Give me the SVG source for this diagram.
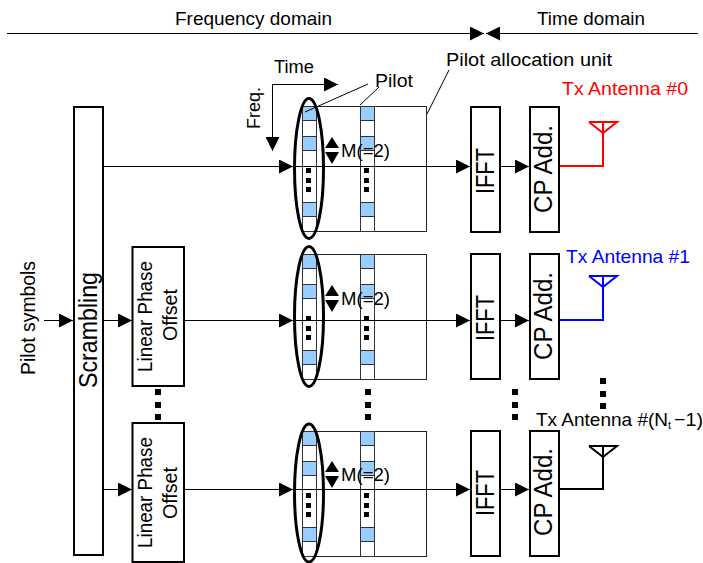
<svg xmlns="http://www.w3.org/2000/svg" xmlns:xlink="http://www.w3.org/1999/xlink" width="703" height="563" viewBox="0 0 703 563">
<style>
text{font-family:"Liberation Sans",Arial,sans-serif;fill:#000;font-size:18.500px}
.box{fill:#fff;stroke:#000;stroke-width:2}
.ln{fill:none;stroke:#000;stroke-width:1}
.thin{fill:none;stroke:#222;stroke-width:1}
.cell{fill:#fff;stroke:#333;stroke-width:1}
.blue{fill:#99ccff;stroke:#333;stroke-width:1}
.ell{fill:none;stroke:#000;stroke-width:3}
.d{fill:#000}
.b{font-size:26px}
.m{font-size:20px}
</style>
<defs>
<marker id="a" markerUnits="userSpaceOnUse" markerWidth="14" markerHeight="14" refX="14" refY="7" orient="auto"><path d="M0 0L14 7L0 14Z" fill="#000"/></marker>
<g id="col">
<rect class="cell" x="302.500" y="0.500" width="14" height="125"/>
<rect class="blue" x="302.500" y="0.500" width="14" height="14"/>
<rect class="blue" x="302.500" y="30.500" width="14" height="14"/>
<rect class="blue" x="302.500" y="96.500" width="14" height="14"/>
<rect class="d" x="306" y="62" width="5" height="5"/><rect class="d" x="306" y="72" width="5" height="5"/><rect class="d" x="306" y="81" width="5" height="5"/>
</g>
<g id="unit">
<rect class="thin" x="302.500" y="0.500" width="124" height="125"/>
<use xlink:href="#col"/>
<use xlink:href="#col" x="58"/>
</g>
<g id="mm">
<path class="d" d="M332 0L339 11L325 11Z"/>
<path class="d" d="M325 15L339 15L332 27Z"/>
<text x="341" y="20" textLength="49" lengthAdjust="spacingAndGlyphs">M(=2)</text>
</g>
</defs>

<g id="unit-0"><use xlink:href="#unit" y="106"/></g>
<g id="unit-1"><use xlink:href="#unit" y="254"/></g>
<g id="unit-2"><use xlink:href="#unit" y="431"/></g>

<g id="connectors">
<path class="ln" d="M7 33.500H484" marker-end="url(#a)"/>
<path class="ln" d="M698 33.500H486" marker-end="url(#a)"/>
<path class="ln" d="M104 166.500H293" marker-end="url(#a)"/>
<path class="ln" d="M293 166.500H470" marker-end="url(#a)"/>
<path class="ln" d="M500 166.500H529" marker-end="url(#a)"/>
<path class="ln" d="M44 320.500H73" marker-end="url(#a)"/>
<path class="ln" d="M104 320.500H132" marker-end="url(#a)"/>
<path class="ln" d="M184 320.500H293" marker-end="url(#a)"/>
<path class="ln" d="M293 320.500H470" marker-end="url(#a)"/>
<path class="ln" d="M500 320.500H529" marker-end="url(#a)"/>
<path class="ln" d="M104 489.500H132" marker-end="url(#a)"/>
<path class="ln" d="M184 489.500H293" marker-end="url(#a)"/>
<path class="ln" d="M293 489.500H470" marker-end="url(#a)"/>
<path class="ln" d="M500 489.500H529" marker-end="url(#a)"/>
<path class="ln" d="M272.500 84.500H338" marker-end="url(#a)"/>
<path class="ln" d="M272.500 84.500V151" marker-end="url(#a)"/>
<path class="ln" d="M305 112L368 84"/>
<path class="ln" d="M360 105L379 87"/>
<path class="ln" d="M427 114L449 70"/>
</g>

<g id="ellipses">
<ellipse class="ell" cx="309" cy="168.500" rx="14.500" ry="70"/>
<ellipse class="ell" cx="309" cy="316.500" rx="14.500" ry="70"/>
<ellipse class="ell" cx="309" cy="493" rx="14.500" ry="69"/>
</g>

<g id="spacing-0"><use xlink:href="#mm" y="137"/></g>
<g id="spacing-1"><use xlink:href="#mm" y="285"/></g>
<g id="spacing-2"><use xlink:href="#mm" y="461"/></g>

<g id="scrambling"><rect class="box" x="74" y="107" width="29" height="448"/><text class="b" transform="translate(97 388) rotate(-90)" textLength="116" lengthAdjust="spacingAndGlyphs">Scrambling</text></g>
<g id="lpo-0"><rect class="box" x="132.500" y="247" width="51.500" height="139"/><text class="m" transform="translate(152 372) rotate(-90)" textLength="111" lengthAdjust="spacingAndGlyphs">Linear Phase</text><text class="m" transform="translate(177 341) rotate(-90)" textLength="52" lengthAdjust="spacingAndGlyphs">Offset</text></g>
<g id="lpo-1"><rect class="box" x="132.500" y="423" width="51.500" height="139"/><text class="m" transform="translate(152 548) rotate(-90)" textLength="111" lengthAdjust="spacingAndGlyphs">Linear Phase</text><text class="m" transform="translate(177 519) rotate(-90)" textLength="52" lengthAdjust="spacingAndGlyphs">Offset</text></g>
<g id="ifft-0"><rect class="box" x="471" y="107" width="29" height="125"/><text class="b" transform="translate(494 194) rotate(-90)" textLength="46" lengthAdjust="spacingAndGlyphs">IFFT</text></g>
<g id="ifft-1"><rect class="box" x="471" y="254" width="29" height="125"/><text class="b" transform="translate(494 341) rotate(-90)" textLength="46" lengthAdjust="spacingAndGlyphs">IFFT</text></g>
<g id="ifft-2"><rect class="box" x="471" y="431" width="29" height="125"/><text class="b" transform="translate(494 516) rotate(-90)" textLength="46" lengthAdjust="spacingAndGlyphs">IFFT</text></g>
<g id="cp-0"><rect class="box" x="530" y="107" width="29" height="125"/><text class="b" transform="translate(552 213) rotate(-90)" textLength="88" lengthAdjust="spacingAndGlyphs">CP Add.</text></g>
<g id="cp-1"><rect class="box" x="530" y="254" width="29" height="125"/><text class="b" transform="translate(552 360) rotate(-90)" textLength="88" lengthAdjust="spacingAndGlyphs">CP Add.</text></g>
<g id="cp-2"><rect class="box" x="530" y="431" width="29" height="125"/><text class="b" transform="translate(552 536) rotate(-90)" textLength="88" lengthAdjust="spacingAndGlyphs">CP Add.</text></g>

<g id="antenna-0" fill="none" stroke="#ff0000" stroke-width="2"><path d="M560 166H603V122M589 122H617L603 133L589 122"/></g>
<g id="antenna-1" fill="none" stroke="#0000ff" stroke-width="2"><path d="M560 320H603V276M589 276H617L603 287L589 276"/></g>
<g id="antenna-2" fill="none" stroke="#000" stroke-width="2"><path d="M560 489H603V446M589 446H617L603 457L589 446"/></g>

<g id="dots" class="d">
<rect x="155" y="389" width="6" height="6"/><rect x="155" y="402" width="6" height="6"/><rect x="155" y="414" width="6" height="6"/>
<rect x="365" y="389" width="6" height="6"/><rect x="365" y="402" width="6" height="6"/><rect x="365" y="414" width="6" height="6"/>
<rect x="512" y="389" width="6" height="6"/><rect x="512" y="402" width="6" height="6"/><rect x="512" y="414" width="6" height="6"/>
<rect x="600" y="378" width="6" height="6"/><rect x="600" y="391" width="6" height="6"/><rect x="600" y="403" width="6" height="6"/>
</g>

<g id="labels">
<text x="175" y="24.500" textLength="157" lengthAdjust="spacingAndGlyphs">Frequency domain</text>
<text x="537" y="24.500" textLength="108" lengthAdjust="spacingAndGlyphs">Time domain</text>
<text x="446" y="66" textLength="166" lengthAdjust="spacingAndGlyphs">Pilot allocation unit</text>
<text x="274" y="73" textLength="40" lengthAdjust="spacingAndGlyphs">Time</text>
<text x="375" y="87" textLength="38" lengthAdjust="spacingAndGlyphs">Pilot</text>
<text transform="translate(260 129) rotate(-90)" textLength="42" lengthAdjust="spacingAndGlyphs">Freq.</text>
<text class="m" transform="translate(35 375) rotate(-90)" textLength="114" lengthAdjust="spacingAndGlyphs">Pilot symbols</text>
<text x="562" y="95" style="fill:#ff0000" textLength="126" lengthAdjust="spacingAndGlyphs">Tx Antenna #0</text>
<text x="566" y="263" style="fill:#0000ff" textLength="124" lengthAdjust="spacingAndGlyphs">Tx Antenna #1</text>
<text x="536" y="426" textLength="132" lengthAdjust="spacingAndGlyphs">Tx Antenna #(N</text>
<text x="668" y="429" style="font-size:11px">t</text>
<text x="674" y="426" textLength="29" lengthAdjust="spacingAndGlyphs">−1)</text>
</g>
</svg>
